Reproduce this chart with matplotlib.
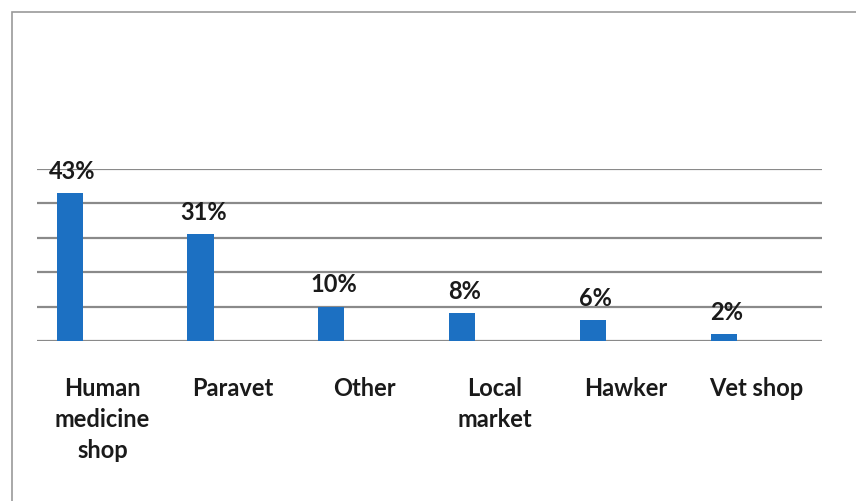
import matplotlib
matplotlib.use('Agg')
import matplotlib.pyplot as plt
from matplotlib.patches import Rectangle
import numpy as np

categories = ['Human\nmedicine\nshop', 'Paravet', 'Other', 'Local\nmarket', 'Hawker', 'Vet shop']
shares = [43, 31, 10, 8, 6, 2]
gridlines = [0, 10, 20, 30, 40, 50]

plt.rcParams['font.family'] = ['Lato', 'DejaVu Sans']

fig = plt.figure(figsize=(8.56, 5.02), dpi=100)
fig.patch.set_facecolor('white')

# outer frame of the chart area (runs off the right and bottom edges)
fig.patches.append(Rectangle((12 / 856, -0.05), 1.0, 1 - 13 / 502 + 0.05,
                             transform=fig.transFigure, fill=False,
                             edgecolor='#9a9a9a', linewidth=1.2))

ax = fig.add_axes([37 / 856, 1 - 342 / 502, (822 - 37) / 856, (342 - 170) / 502])
ax.set_xlim(-0.5, len(categories) - 0.5)
ax.set_ylim(0, 50)

for g in gridlines:
    ax.axhline(g, color='#8a8a8a', linewidth=1.6, zorder=1)

x = np.arange(len(categories))
bars = ax.bar(x - 0.25, shares, width=0.2, color='#1c70c2', zorder=2)

for b, v in zip(bars, shares):
    ax.annotate(f'{v}%', (b.get_x() + b.get_width() / 2, v),
                xytext=(2, 8), textcoords='offset points',
                ha='center', va='bottom', fontsize=17, fontweight='bold',
                color='#1a1a1a', zorder=3)

ax.set_xticks(x)
ax.set_xticklabels(categories, fontsize=17, fontweight='bold', color='#1a1a1a',
                   linespacing=1.42)
ax.tick_params(axis='x', length=0, pad=25)
ax.set_yticks([])
for s in ax.spines.values():
    s.set_visible(False)

fig.savefig('out.png', dpi=100)
